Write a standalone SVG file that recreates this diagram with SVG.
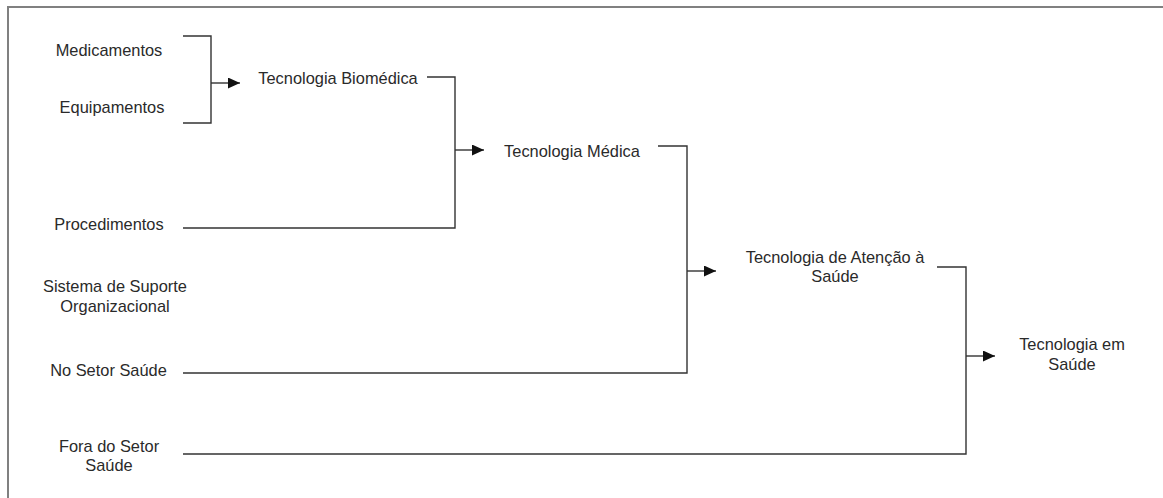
<svg xmlns="http://www.w3.org/2000/svg" width="1163" height="498" viewBox="0 0 1163 498">
<style>
text{font-family:"Liberation Sans",Arial,sans-serif;font-size:16.4px;fill:#2a2a2a;text-anchor:middle}
.c{fill:none;stroke:#333;stroke-width:1.4}
.frame{fill:none;stroke:#808080;stroke-width:2}
</style>
<defs>
<marker id="ah" markerUnits="userSpaceOnUse" markerWidth="13" markerHeight="11" refX="12" refY="5.5" orient="auto">
<path d="M0,0 L12,5.5 L0,11 Z" fill="#111"/>
</marker>
</defs>
<rect width="1163" height="498" fill="#fff"/>
<path class="frame" d="M8,498 V7 H1163"/>
<g id="connectors">
<path class="c" d="M183,36 H211 V123 H183"/>
<path class="c" d="M211,83 H240" marker-end="url(#ah)"/>
<path class="c" d="M427,77 H455 V228 H183"/>
<path class="c" d="M455,150 H484" marker-end="url(#ah)"/>
<path class="c" d="M658,146 H687 V373 H183"/>
<path class="c" d="M687,271 H716" marker-end="url(#ah)"/>
<path class="c" d="M937,267 H966 V454 H183"/>
<path class="c" d="M966,356 H995" marker-end="url(#ah)"/>
</g>
<g id="medicamentos"><text x="109" y="56">Medicamentos</text></g>
<g id="equipamentos"><text x="112" y="113">Equipamentos</text></g>
<g id="tec-biomedica"><text x="338" y="84">Tecnologia Biomédica</text></g>
<g id="procedimentos"><text x="109" y="230">Procedimentos</text></g>
<g id="tec-medica"><text x="572" y="157">Tecnologia Médica</text></g>
<g id="sistema-suporte"><text x="115" y="292">Sistema de Suporte</text><text x="115" y="312">Organizacional</text></g>
<g id="no-setor"><text x="108.5" y="376">No Setor Saúde</text></g>
<g id="fora-setor"><text x="109" y="452">Fora do Setor</text><text x="109" y="471">Saúde</text></g>
<g id="tec-atencao"><text x="835" y="263">Tecnologia de Atenção à</text><text x="835" y="282">Saúde</text></g>
<g id="tec-saude"><text x="1072" y="350">Tecnologia em</text><text x="1072" y="370">Saúde</text></g>
</svg>
